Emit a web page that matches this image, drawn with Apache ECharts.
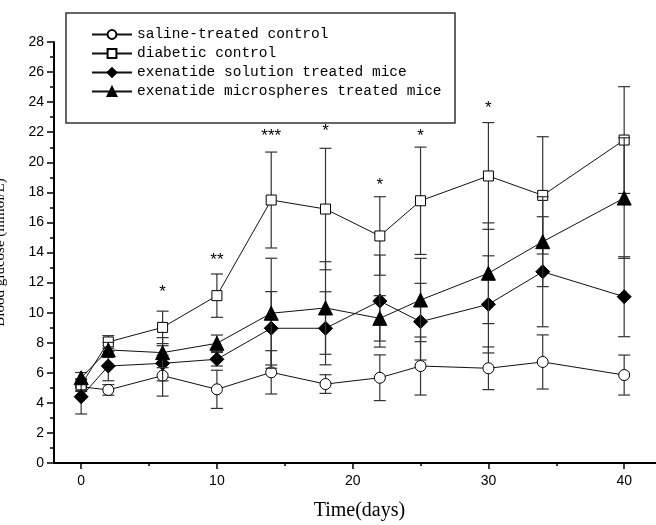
<!DOCTYPE html>
<html>
<head>
<meta charset="utf-8">
<script src="https://cdn.jsdelivr.net/npm/echarts@6/dist/echarts.min.js"></script>
<style>
html,body{margin:0;padding:0;background:#fff;}
#chart{width:656px;height:525px;}
</style>
</head>
<body>
<div id="chart"></div>
<script>
// ---- data ----
const days = [0, 2, 6, 10, 14, 18, 22, 25, 30, 34, 40];
const seriesNames = [
  'saline-treated control',
  'diabetic control',
  'exenatide solution treated mice',
  'exenatide microspheres treated mice'
];
const salineMean = [5.07, 4.86, 5.81, 4.90, 6.03, 5.25, 5.67, 6.45, 6.30, 6.72, 5.85];
const salineErr  = [0.30, 0.35, 1.36, 1.27, 1.44, 0.62, 1.52, 1.93, 1.42, 1.80, 1.33];
const diabeticMean = [5.20, 8.05, 9.02, 11.13, 17.49, 16.89, 15.10, 17.44, 19.09, 17.80, 21.48];
const diabeticErr  = [0.40, 0.42, 1.08, 1.44, 3.19, 4.04, 2.61, 3.57, 3.55, 3.90, 3.55];
const solutionMean = [4.41, 6.45, 6.63, 6.90, 8.96, 8.96, 10.77, 9.40, 10.55, 12.72, 11.06];
const solutionErr  = [1.15, 0.98, 1.17, 0.45, 2.44, 2.43, 3.06, 2.55, 3.23, 3.66, 2.66];
const microMean = [5.67, 7.52, 7.34, 7.96, 9.96, 10.31, 9.62, 10.84, 12.62, 14.72, 17.62];
const microErr  = [0.35, 0.50, 1.00, 0.55, 3.66, 3.08, 1.51, 2.77, 3.35, 2.99, 4.01];
const starDays  = [6, 10, 14, 18, 22, 25, 30];
const starY     = [11.64, 13.77, 22.0, 22.3, 18.75, 22.0, 23.86];
const starText  = ['*', '**', '***', '*', '*', '*', '*'];
const xTickValues = [0, 10, 20, 30, 40];
const xMinorTickValues = [5, 15, 25, 35];
const xTitle = 'Time(days)';
const yTitle = 'Blood glucose (mmol/L)';

// ---- build ----
const means = [salineMean, diabeticMean, solutionMean, microMean];
const errs = [salineErr, diabeticErr, solutionErr, microErr];
const symbols = ['circle', 'rect', 'diamond', 'triangle'];
const symbolSizes = [11, 10, 14, 14];
const fills = ['#fff', '#fff', '#000', '#000'];

function errRender(params, api) {
  const x = api.value(0);
  const p1 = api.coord([x, api.value(1)]);
  const p2 = api.coord([x, api.value(2)]);
  const hw = 6;
  const st = { stroke: '#333', lineWidth: 1.2 };
  return {
    type: 'group',
    children: [
      { type: 'line', shape: { x1: p1[0], y1: p1[1], x2: p2[0], y2: p2[1] }, style: st },
      { type: 'line', shape: { x1: p1[0] - hw, y1: p1[1], x2: p1[0] + hw, y2: p1[1] }, style: st },
      { type: 'line', shape: { x1: p2[0] - hw, y1: p2[1], x2: p2[0] + hw, y2: p2[1] }, style: st }
    ]
  };
}

const series = [];
means.forEach((m, i) => {
  series.push({
    name: 'err' + i,
    type: 'custom',
    renderItem: errRender,
    data: days.map((d, j) => [d, m[j] - errs[i][j], m[j] + errs[i][j]]),
    z: 2 + i * 2,
    silent: true
  });
  series.push({
    name: seriesNames[i],
    type: 'line',
    data: days.map((d, j) => [d, m[j]]),
    symbol: symbols[i],
    symbolSize: symbolSizes[i],
    showAllSymbol: true,
    lineStyle: { color: '#111', width: 1 },
    itemStyle: { color: fills[i], borderColor: '#000', borderWidth: 1, opacity: 1 },
    z: 3 + i * 2,
    animation: false
  });
});
series.push({
  name: 'stars',
  type: 'custom',
  silent: true,
  z: 20,
  data: starDays.map((d, i) => [d, starY[i], starText[i]]),
  renderItem: function (params, api) {
    const p = api.coord([api.value(0), api.value(1)]);
    return {
      type: 'text',
      x: p[0],
      y: p[1] + 4,
      style: {
        text: starText[params.dataIndex],
        fontSize: 17,
        fontFamily: 'Liberation Sans, Arial, sans-serif',
        fill: '#000',
        align: 'center',
        verticalAlign: 'middle'
      }
    };
  }
});

const chart = echarts.init(document.getElementById('chart'), null, { renderer: 'canvas' });
chart.setOption({
  animation: false,
  backgroundColor: '#fff',
  grid: { left: 54, top: 42, width: 610.9, height: 421, containLabel: false, outerBoundsMode: 'none' },
  graphic: [{
    type: 'rect',
    shape: { x: 66, y: 13, width: 389, height: 110 },
    style: { fill: 'none', stroke: '#333', lineWidth: 1.5 },
    z: 1
  }],
  legend: {
    data: seriesNames,
    orient: 'vertical',
    left: 86,
    top: 22,
    itemWidth: 40,
    itemHeight: 11,
    itemGap: 4,
    textStyle: { fontFamily: 'Liberation Mono, monospace', fontSize: 14.5, color: '#000' },
    selectedMode: false
  },
  xAxis: [{
    type: 'value',
    min: -2,
    max: 43,
    name: xTitle,
    nameLocation: 'middle',
    nameGap: 38,
    nameTextStyle: { fontFamily: 'Liberation Serif, serif', fontSize: 20, color: '#000' },
    axisLine: { show: true, onZero: false, lineStyle: { color: '#000', width: 2 } },
    axisTick: { show: true, customValues: xTickValues, length: 6, lineStyle: { color: '#000', width: 1.5 } },
    axisLabel: { customValues: xTickValues, fontFamily: 'Liberation Sans, Arial, sans-serif', fontSize: 14, color: '#000', margin: 11 },
    splitLine: { show: false }
  }, {
    type: 'value',
    min: -2,
    max: 43,
    position: 'bottom',
    offset: 0,
    axisLine: { show: false, onZero: false },
    axisTick: { show: true, customValues: xMinorTickValues, length: 3, lineStyle: { color: '#000', width: 1.5 } },
    axisLabel: { show: false },
    splitLine: { show: false }
  }],
  yAxis: {
    type: 'value',
    min: 0,
    max: 28,
    interval: 2,
    name: yTitle,
    nameLocation: 'middle',
    nameGap: 46,
    nameTextStyle: { fontFamily: 'Liberation Serif, serif', fontSize: 15, color: '#000' },
    axisLine: { show: true, onZero: false, lineStyle: { color: '#000', width: 2 } },
    axisTick: { show: true, length: 7, lineStyle: { color: '#000', width: 1.5 } },
    minorTick: { show: true, splitNumber: 2, length: 4, lineStyle: { color: '#000', width: 1.5 } },
    axisLabel: { fontFamily: 'Liberation Sans, Arial, sans-serif', fontSize: 14, color: '#000', margin: 10 },
    splitLine: { show: false },
    minorSplitLine: { show: false }
  },
  series: series
});
</script>
</body>
</html>
